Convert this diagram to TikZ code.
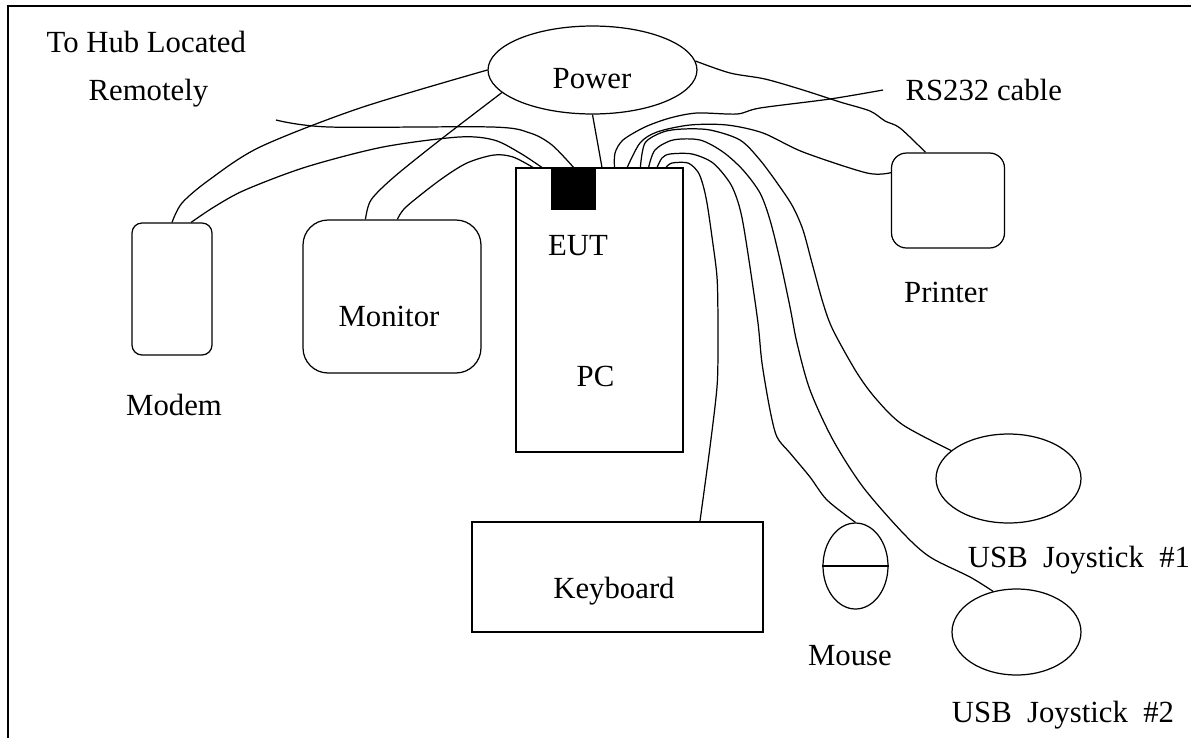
\documentclass[tikz,border=0pt]{standalone}
\usepackage{fontspec}
\setmainfont{Liberation Serif}
\usepackage{tikz}
\usetikzlibrary{shapes.geometric}

\begin{document}
\begin{tikzpicture}[x=0.02cm, y=-0.02cm, line width=0.7pt,
    font=\fontsize{17.5}{20}\selectfont,
    dev/.style={draw, shape=rectangle, inner sep=0pt},
    oval/.style={draw, shape=ellipse, inner sep=0pt},
    lbl/.style={draw=none, inner sep=0pt, anchor=base},
    cable/.style={line join=round}]
  \useasboundingbox (0,0) rectangle (1191,738);
  % frame
  \draw[line width=1.3pt] (8,738) -- (8,6) -- (1191,6);

  % devices
  \node (power) [oval, minimum width=4.18cm, minimum height=1.76cm] at (592.5,70) {};
  \node (pc) [dev, minimum width=3.34cm, minimum height=5.68cm] at (599.5,310) {};
  \node (eut) [dev, fill=black, minimum width=0.86cm, minimum height=0.82cm] at (573.5,188.5) {};
  \node (modem) [dev, rounded corners=0.2cm, minimum width=1.6cm, minimum height=2.64cm] at (172,289) {};
  \node (monitor) [dev, rounded corners=0.5cm, minimum width=3.56cm, minimum height=3.06cm] at (392,296.5) {};
  \node (printer) [dev, rounded corners=0.3cm, minimum width=2.26cm, minimum height=1.9cm] at (948,200.5) {};
  \node (keyboard) [dev, minimum width=5.82cm, minimum height=2.2cm] at (617.5,577) {};
  \node (mouse) [oval, minimum width=1.3cm, minimum height=1.72cm] at (855.5,566) {};
  \node (joy1) [oval, minimum width=2.9cm, minimum height=1.78cm] at (1008.5,478.5) {};
  \node (joy2) [oval, minimum width=2.58cm, minimum height=1.72cm] at (1016.5,632) {};
  \draw (mouse.west) -- (mouse.east);

  % labels
  \node (hubtxt) [lbl, anchor=base west] at (46,52) {To Hub Located};
  \node (remtxt) [lbl, anchor=base west] at (88,100) {Remotely};
  \node (powertxt) [lbl] at (592,88) {Power};
  \node (rstxt) [lbl, anchor=base west] at (905,100) {RS232 cable};
  \node (euttxt) [lbl] at (578,255) {EUT};
  \node (pctxt) [lbl] at (595.5,386) {PC};
  \node (modemtxt) [lbl] at (174,415) {Modem};
  \node (monitortxt) [lbl] at (389,326) {Monitor};
  \node (printertxt) [lbl] at (946,302) {Printer};
  \node (keyboardtxt) [lbl] at (614,598) {Keyboard};
  \node (mousetxt) [lbl] at (850,665) {Mouse};
  \node (joy1txt) [lbl] at (1079,567) {USB\hspace{0.5em}Joystick\hspace{0.5em}\#1};
  \node (joy2txt) [lbl] at (1063,722) {USB\hspace{0.5em}Joystick\hspace{0.5em}\#2};

  % free cable ends
  \coordinate (hub) at (276,120);
  \coordinate (rsend) at (883,90);

  % power cables
  \draw[cable] plot[smooth, tension=.5] coordinates {(power.west) (360,108) (260,147) (209,180) (182,203) (modem.north)};
  \draw[cable] plot[smooth, tension=.5] coordinates {(power.194) (440,140) (394,177) (371,200) (monitor.109)};
  \draw[cable] (power.south) -- (pc.89);
  \draw[cable] plot[smooth, tension=.5] coordinates {(power.5) (730,73) (765,79) (803,90) (840,102) (870,111) (885,121) (900,128) (printer.115)};

  % cables to the PC
  \draw[cable] plot[smooth, tension=.5] coordinates {(modem.74) (214,207) (245,190) (306,167) (383,147) (459,137) (494,140) (520,153) (pc.112.7)};
  \draw[cable] plot[smooth, tension=.5] coordinates {(monitor.86) (406,207) (440,180) (467,163) (494,155) (513,157) (pc.115.4)};
  \draw[cable] plot[smooth, tension=.5] coordinates {(hub) (329,127) (492,127) (530,133) (552,145) (eut.north)};
  \draw[cable] plot[smooth, tension=.5] coordinates {(rsend) (830,99) (760,108) (737,114) (697,113) (670,118) (645,127) (623,140) (615,153) (pc.84.6)};
  \draw[cable] plot[smooth, tension=.5] coordinates {(printer.154) (867,173) (803,152) (763,133) (727,125) (690,125) (657,132) (640,143) (pc.79)};
  \draw[cable] plot[smooth, tension=.5] coordinates {(pc.74.8) (645,143) (663,132) (683,129) (710,130) (740,140) (760,160) (780,187) (793,207) (803,230) (812,263) (823,303) (833,330) (857,373) (877,400) (903,425) (joy1.154)};
  \draw[cable] plot[smooth, tension=.5] coordinates {(pc.71.5) (655,150) (673,140) (700,140) (723,152) (743,170) (760,193) (770,220) (780,260) (790,307) (797,343) (810,390) (833,440) (863,487) (903,533) (930,557) (970,577) (joy2.120)};
  \draw[cable] plot[smooth, tension=.5] coordinates {(pc.68.7) (662,158) (670,154) (692,154) (713,163) (730,183) (738,202) (743,223) (750,267) (758,323) (762,363) (770,410) (777,437) (790,453) (810,477) (827,500) (mouse.north)};
  \draw[cable] plot[smooth, tension=.5] coordinates {(pc.65.2) (672,163) (688,163) (698,172) (703,185) (707,203) (712,237) (717,277) (718,320) (718,347) (717,387) (710,447) (keyboard.34)};
\end{tikzpicture}
\end{document}
